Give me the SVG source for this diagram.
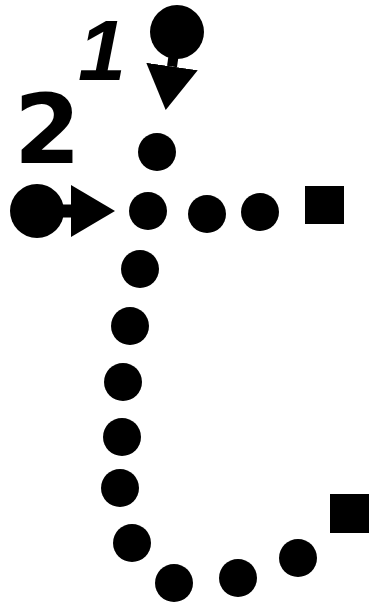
<svg xmlns="http://www.w3.org/2000/svg" width="370" height="606" viewBox="0 0 370 606">
  <style>
    .dot { fill: #000; }
    .start { fill: #000; }
    .end { fill: #000; }
    .stem { stroke: #000; fill: none; }
    .num { font-weight: bold; fill: #000; }
  </style>
  <defs>
    <marker id="tri" markerUnits="userSpaceOnUse" markerWidth="46" markerHeight="54" refX="0" refY="26" orient="auto">
      <path d="M0,0 L44,26 L0,52 z" fill="#000"/>
    </marker>
  </defs>
  <rect width="370" height="606" fill="#fff"/>

  <g id="labels">
    <text class="num" x="78" y="80" font-size="86" font-style="italic" font-family="Liberation Sans, Arial, sans-serif">1</text>
    <text class="num" x="14" y="163" font-size="96" font-family="DejaVu Sans, sans-serif">2</text>
  </g>

  <g id="connectors">
    <line class="stem" x1="177" y1="32" x2="172" y2="66.5" stroke-width="10" marker-end="url(#tri)"/>
    <line class="stem" x1="37" y1="211" x2="71" y2="211" stroke-width="13" marker-end="url(#tri)"/>
  </g>

  <g id="start1"><circle class="start" cx="177" cy="32" r="27"/></g>
  <g id="start2"><circle class="start" cx="37" cy="211" r="27"/></g>

  <g id="stroke1">
    <circle class="dot" cx="157" cy="152" r="19"/>
    <circle class="dot" cx="148" cy="211" r="19"/>
    <circle class="dot" cx="140" cy="269" r="19"/>
    <circle class="dot" cx="130" cy="326" r="19"/>
    <circle class="dot" cx="123" cy="382" r="19"/>
    <circle class="dot" cx="122" cy="437" r="19"/>
    <circle class="dot" cx="120" cy="488" r="19"/>
    <circle class="dot" cx="132" cy="543" r="19"/>
    <circle class="dot" cx="174" cy="583" r="19"/>
    <circle class="dot" cx="238" cy="578" r="19"/>
    <circle class="dot" cx="298" cy="558" r="19"/>
  </g>
  <g id="end1"><rect class="end" x="330" y="494" width="39" height="39"/></g>

  <g id="stroke2">
    <circle class="dot" cx="207" cy="214" r="19"/>
    <circle class="dot" cx="260" cy="212" r="19"/>
  </g>
  <g id="end2"><rect class="end" x="305" y="186" width="39" height="38"/></g>
</svg>
